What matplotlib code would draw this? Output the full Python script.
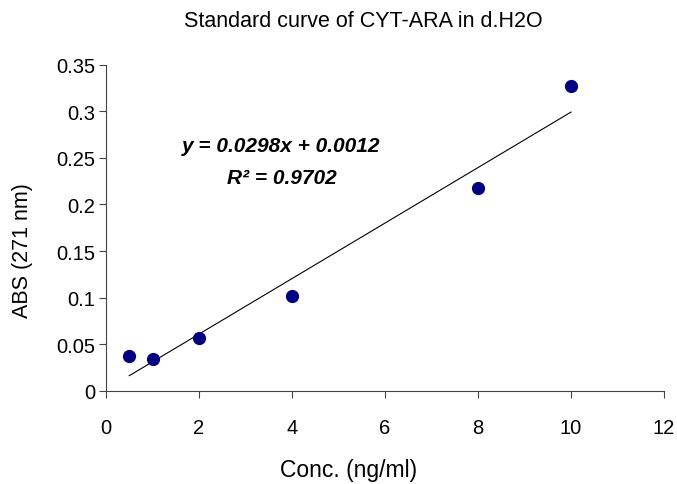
import numpy as np
import matplotlib.pyplot as plt

conc = [0.5, 1, 2, 4, 8, 10]
absorb = [0.037, 0.034, 0.0565, 0.102, 0.2175, 0.327]
slope = 0.0298
intercept = 0.0012
r2 = 0.9702

plt.rcParams['font.family'] = ['Liberation Sans', 'DejaVu Sans']

fig = plt.figure(figsize=(6.77, 4.85), dpi=100)
ax = fig.add_axes([0.1566, 0.1924, 0.8242, 0.672])

xfit = np.array([conc[0], conc[-1]])
ax.plot(xfit, slope * xfit + intercept, color='black', lw=0.8)
ax.plot(conc, absorb, 'o', color='#000080', ms=8.5, mec='#000080')

ax.set_xlim(0, 12)
ax.set_ylim(0, 0.35)
ax.set_xticks(range(0, 13, 2))
ax.set_yticks(np.arange(0, 0.351, 0.05))
ax.set_yticklabels(['0', '0.05', '0.1', '0.15', '0.2', '0.25', '0.3', '0.35'])
ax.tick_params(labelsize=14.5, length=5, width=0.8, direction='out', color='#444444')
ax.tick_params(axis='x', pad=15)
ax.tick_params(axis='y', pad=3)
for s in ['top', 'right']:
    ax.spines[s].set_visible(False)
for s in ['left', 'bottom']:
    ax.spines[s].set_color('#444444')

ax.set_xlabel('Conc. (ng/ml)', fontsize=16.5, va='center')
ax.set_ylabel('ABS (271 nm)', fontsize=15.5, va='center')
ax.xaxis.set_label_coords(0.435, -0.242)
ax.yaxis.set_label_coords(-0.149, 0.433)
fig.text(0.536, 0.955, 'Standard curve of CYT-ARA in d.H2O', fontsize=15.5,
         ha='center', va='center')

ax.text(3.76, 0.263, 'y = %.4fx + %.4f' % (slope, intercept), fontsize=15,
        fontweight='bold', style='italic', ha='center', va='center')
ax.text(3.78, 0.229, 'R\u00b2 = %.4f' % r2, fontsize=15,
        fontweight='bold', style='italic', ha='center', va='center')

fig.savefig('out.png', dpi=100)
